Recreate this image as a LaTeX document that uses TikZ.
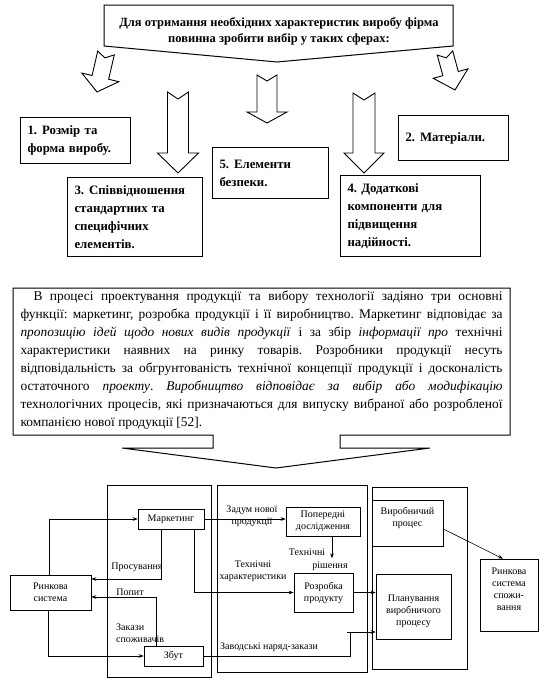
\documentclass[tikz,border=0pt]{standalone}
\usepackage{fontspec}
\setmainfont{Liberation Serif}
\usetikzlibrary{calc,arrows.meta}
\newcommand\dfont{\fontsize{10}{12}\selectfont}
\newcommand\hollowarrow[6]{%
 \coordinate (hT) at (#1); \coordinate (hP) at (#2);
 \coordinate (hB) at ($(hP)!#5!(hT)$);
 \coordinate (hN) at ($(hT)!#6!(hP)$);
 \draw[blockarrow] ($(hT)!#3!90:(hP)$) -- (hN) -- ($(hT)!#3!-90:(hP)$)
   -- ($(hB)!#3!90:(hT)$) -- ($(hB)!#4!90:(hT)$) -- (hP)
   -- ($(hB)!#4!-90:(hT)$) -- ($(hB)!#3!-90:(hT)$) -- cycle;}
\tikzset{
 blockarrow/.style={draw, line width=0.9pt, line join=miter, fill=white},
 tbox/.style={draw, line width=1pt, font=\bfseries\fontsize{12.8}{18}\selectfont,
   align=left, inner xsep=7pt, inner ysep=0pt, anchor=north west},
 panel/.style={draw, line width=0.6pt},
 dbox/.style={draw, line width=0.6pt, inner sep=1pt, font=\dfont, align=center},
 lbl/.style={font=\dfont, align=center, inner sep=0pt},
 conn/.style={draw, line width=0.6pt, -{Stealth[length=5pt,width=3.6pt]}},
}
\begin{document}
\frenchspacing
\begin{tikzpicture}[x=1pt,y=-1pt]
\fill[white] (0,0) rectangle (549,688);
\useasboundingbox (0,0) rectangle (549,688);
% title callout
\draw[line width=1pt, line join=miter] (104,5) -- (453,5) -- (453,46) -- (277,62) -- (104,46) -- cycle;
\node[font=\bfseries\fontsize{12.5}{16}\selectfont, align=center, inner sep=0pt] (title) at (279,31)
 {Для отримання необхідних характеристик виробу фірма\\повинна зробити вибір у таких сферах:};
% block arrows
\hollowarrow{106,53}{97,92}{8.5pt}{19pt}{15pt}{5pt}
\hollowarrow{445,53}{455,90}{8pt}{18pt}{17pt}{5pt}
\hollowarrow{267,75}{267,123}{10pt}{20pt}{11pt}{6pt}
\hollowarrow{178,92}{178,173}{10.5pt}{20.5pt}{20pt}{7pt}
\hollowarrow{364,93}{364,173}{11pt}{20pt}{20pt}{7pt}
% boxes
\node[tbox, minimum width=110pt, minimum height=46pt, text width=96pt] (b1) at (20,117) {1.\hspace{5pt}Розмір та\\форма виробу.};
\node[tbox, minimum width=110pt, minimum height=45pt, text width=96pt] (b2) at (398,115) {2.\hspace{5pt}Матеріали.};
\node[tbox, minimum width=116pt, minimum height=51pt, text width=102pt] (b5) at (212,147) {5.\hspace{5pt}Елементи\\безпеки.};
\node[tbox, minimum width=135pt, minimum height=79pt, text width=121pt] (b3) at (67,177) {3.\hspace{5pt}Співвідношення\\стандартних та\\специфічних\\елементів.};
\node[tbox, minimum width=140pt, minimum height=81pt, text width=126pt] (b4) at (340,175) {4. Додаткові\\компоненти для\\підвищення\\надійності.};
% paragraph box merged with the wide arrow below it
\draw[line width=1pt, line join=miter] (13,288) -- (510,288) -- (510,435) -- (340,435) -- (340,448)
  -- (430,448) -- (276,468) -- (122,448) -- (213,448) -- (213,435) -- (13,435) -- cycle;
\node[inner sep=0pt, text width=482pt, align=justify,
  font=\fontsize{13.4}{17.9}\selectfont] (para) at (261.5,360)
 {\hspace*{13pt}В процесі проектування продукції та вибору технології задіяно три основні
 \linebreak функції: маркетинг, розробка продукції і її виробництво. Маркетинг відповідає за
 \linebreak \textit{пропозицію ідей щодо нових видів продукції} і за збір \textit{інформації про} технічні
 \linebreak характеристики наявних на ринку товарів. Розробники продукції несуть
 \linebreak відповідальність за обгрунтованість технічної концепції продукції і досконалість
 \linebreak остаточного \textit{проекту}. \textit{Виробництво відповідає за вибір або модифікацію}
 \linebreak технологічних процесів, які призначаються для випуску вибраної або розробленої
 \linebreak компанією нової продукції [52].};
% panels
\draw[panel] (107,485) rectangle (211,677);
\draw[panel] (217,485) rectangle (367,672);
\draw[panel] (372,487) rectangle (467,669);
% diagram boxes
\node[dbox, minimum width=66pt, minimum height=20pt] (mark) at (171,519) {Маркетинг};
\node[dbox, minimum width=74pt, minimum height=29pt] (pop) at (323,521.5) {Попередні\\дослідження};
\node[dbox, minimum width=71pt, minimum height=46pt] (vp) at (407.5,523) {};
\node[lbl] (vpt) at (407.5,518) {Виробничий\\процес};
\node[dbox, minimum width=58pt, minimum height=72pt] (rss) at (509,595) {};
\node[lbl] (rsst) at (509,589) {Ринкова\\система\\спожи-\\вання};
\node[dbox, minimum width=59pt, minimum height=39pt] (rozr) at (323.5,592.5) {Розробка\\продукту};
\node[dbox, minimum width=75pt, minimum height=65pt] (plan) at (413.5,606.5) {};
\node[lbl] (plant) at (413.5,611) {Планування\\виробничого\\процесу};
\node[dbox, minimum width=81pt, minimum height=35pt] (rs) at (50.5,592.5) {Ринкова\\система};
\node[dbox, minimum width=59pt, minimum height=20pt] (zbut) at (173.5,656) {Збут};
% connectors
\draw[conn] ([xshift=-1.5pt]rs.north) |- (mark.west);
\draw[conn] ([xshift=-10pt]mark.south) |- ([yshift=13.5pt]rs.east);
\draw[conn] ([xshift=23pt]mark.south) |- (rozr.west);
\draw[conn] (mark.east) -- (mark.east -| pop.west);
\coordinate (trend) at ([xshift=9pt,yshift=-22pt]pop.south);
\draw[conn] ([xshift=9pt]pop.south) -- (trend);
\draw[conn] (rozr.east) -- (rozr.east -| plan.west);
\coordinate (zk) at (350,632);
\draw[line width=0.6pt] (zbut.east) -| (zk);
\draw[conn] ([xshift=-3pt]zk) -- (zk -| plan.west);
\draw[conn] ([xshift=-17.5pt]zbut.north) |- ([yshift=-4.5pt]rs.east);
\draw[conn] ([xshift=-2.5pt]rs.south) |- (zbut.west);
\draw[conn] ([yshift=-6pt]vp.east) -- ([xshift=-6pt]rss.north);
% labels
\node[lbl] (l1) at (252,516) {Задум нової\\продукції};
\node[lbl] (l2) at (137,567) {Просування};
\node[lbl] (l3) at (253,571.5) {Технічні\\характеристики};
\node[lbl] (l4) at (307,552) {Технічні};
\node[lbl] (l5) at (330,566) {рішення};
\node[lbl] (l6) at (130,592) {Попит};
\node[lbl, align=left, anchor=west] (l7) at (116,633) {Закази\\споживачів};
\node[lbl] (l8) at (269,647) {Заводські наряд-закази};
\end{tikzpicture}
\end{document}
